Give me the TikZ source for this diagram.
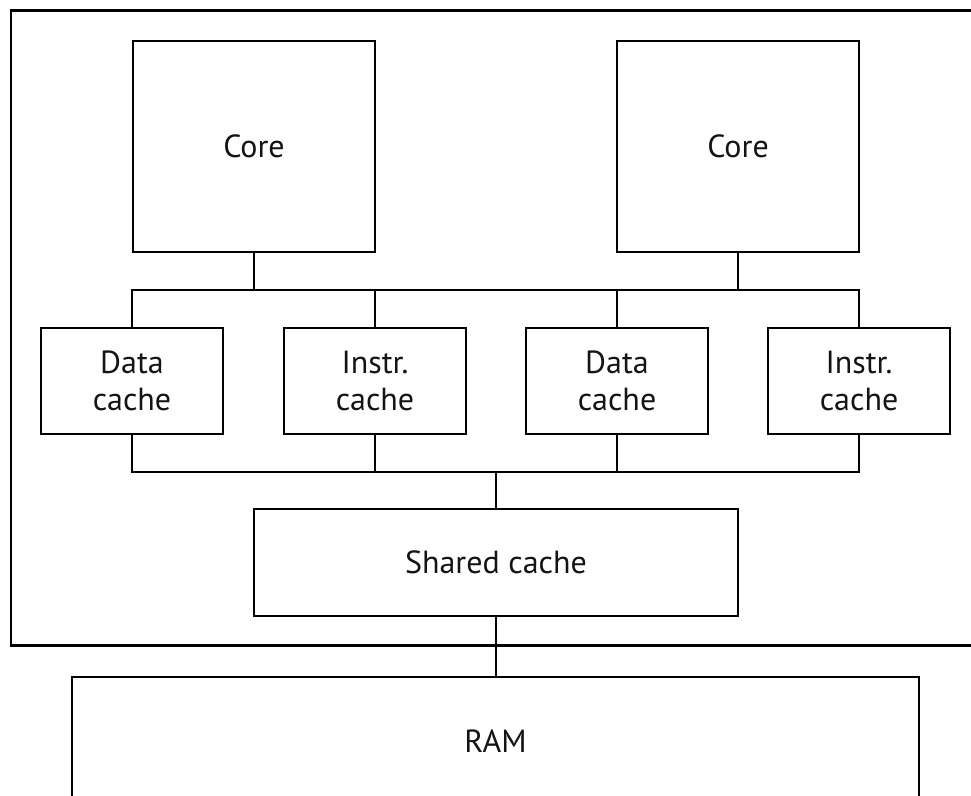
\documentclass[tikz,border=0pt]{standalone}
\usepackage{fontspec}
\setmainfont{PT Sans}
\begin{document}
\begin{tikzpicture}[x=1pt,y=-1pt,
  box/.style={draw=black, line width=2pt, inner sep=0pt, align=center,
    font=\fontsize{32}{37}\selectfont, text=black!92},
  corebox/.style={box, minimum width=242pt, minimum height=211pt},
  cachebox/.style={box, minimum width=182pt, minimum height=106pt},
  wire/.style={draw=black, line width=2pt}]
\useasboundingbox (0,0) rectangle (971,795);
\clip (0,0) rectangle (971,795);
% outer chip boundary
\node[draw=black, line width=2.2pt, minimum width=969pt, minimum height=635pt, inner sep=0pt] (chip) at (495.5,328) {};
% cores
\node[corebox] (core1) at (254,146.5) {Core};
\node[corebox] (core2) at (738,146.5) {Core};
% L1 caches
\node[cachebox] (d1) at (132,381) {Data\\cache};
\node[cachebox] (i1) at (375,381) {Instr.\\cache};
\node[cachebox] (d2) at (617,381) {Data\\cache};
\node[cachebox] (i2) at (859,381) {Instr.\\cache};
% shared cache and RAM
\node[box, minimum width=484pt, minimum height=107pt] (shared) at (496,562.5) {Shared cache};
\node[box, minimum width=847pt, minimum height=130pt] (ram) at (495.5,741.5) {RAM};
% buses
\coordinate (topbus) at (0,290);
\coordinate (botbus) at (0,472);
\draw[wire] (d1.north) -- (d1.north |- topbus) -- (i2.north |- topbus) -- (i2.north);
\draw[wire] (i1.north) -- (i1.north |- topbus);
\draw[wire] (d2.north) -- (d2.north |- topbus);
\draw[wire] (core1.south) -- (core1.south |- topbus);
\draw[wire] (core2.south) -- (core2.south |- topbus);
\draw[wire] (d1.south) -- (d1.south |- botbus) -- (i2.south |- botbus) -- (i2.south);
\draw[wire] (i1.south) -- (i1.south |- botbus);
\draw[wire] (d2.south) -- (d2.south |- botbus);
\draw[wire] (shared.north) -- (shared.north |- botbus);
\draw[wire] (shared.south) -- (shared.south |- ram.north);
\end{tikzpicture}
\end{document}
